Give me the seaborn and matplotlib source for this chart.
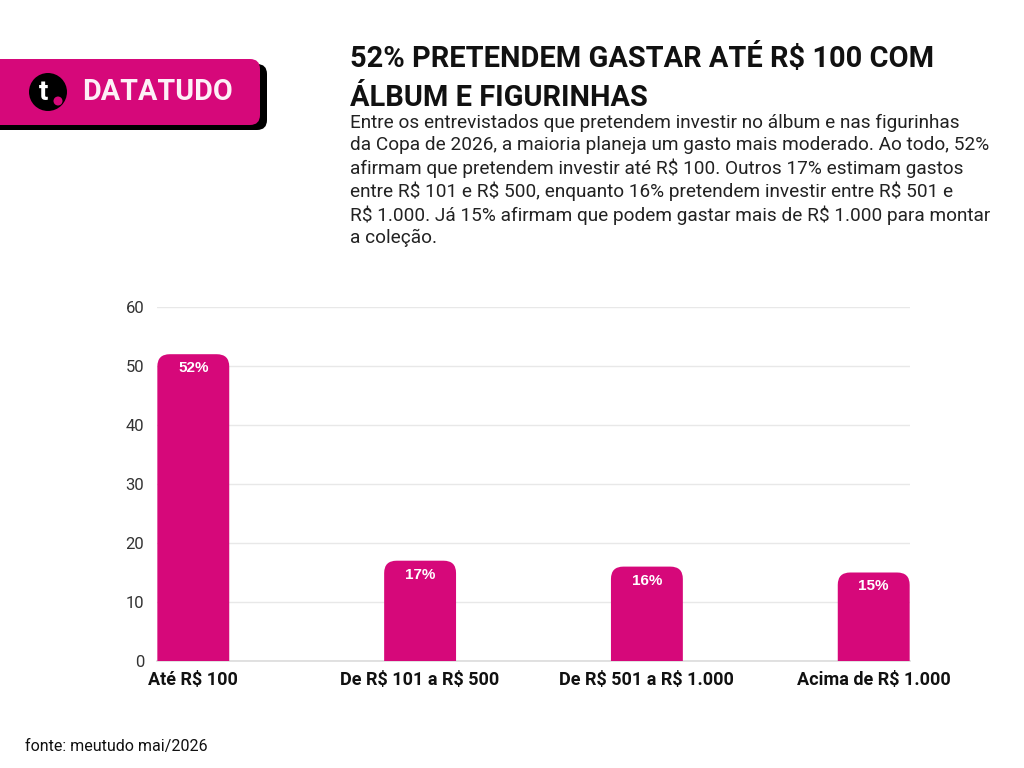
import matplotlib
matplotlib.use("Agg")
import matplotlib.pyplot as plt
import seaborn as sns
import pandas as pd
from matplotlib.patches import FancyBboxPatch, Circle
from matplotlib.transforms import IdentityTransform

categories = ["Até R$ 100", "De R$ 101 a R$ 500", "De R$ 501 a R$ 1.000", "Acima de R$ 1.000"]
values = [52, 17, 16, 15]
bar_labels = ["52%", "17%", "16%", "15%"]
y_ticks = [0, 10, 20, 30, 40, 50, 60]

title_text = "52% PRETENDEM GASTAR ATÉ R$ 100 COM\nÁLBUM E FIGURINHAS"
body_text = ("Entre os entrevistados que pretendem investir no álbum e nas figurinhas\n"
             "da Copa de 2026, a maioria planeja um gasto mais moderado. Ao todo, 52%\n"
             "afirmam que pretendem investir até R$ 100. Outros 17% estimam gastos\n"
             "entre R$ 101 e R$ 500, enquanto 16% pretendem investir entre R$ 501 e\n"
             "R$ 1.000. Já 15% afirmam que podem gastar mais de R$ 1.000 para montar\n"
             "a coleção.")
source_text = "fonte: meutudo mai/2026"
brand = "DATATUDO"

PINK = "#D6087A"

sns.set_theme(style="white")
plt.rcParams['font.family'] = ['Roboto', 'DejaVu Sans']
plt.rcParams['text.parse_math'] = False

fig = plt.figure(figsize=(10.24, 7.68), dpi=100)
fig.patch.set_facecolor("white")
ax = fig.add_axes([157/1024, 107/768, 753/1024, 354/768])

df = pd.DataFrame({"cat": categories, "val": values})
sns.barplot(data=df, x="cat", y="val", color=PINK, width=0.317, ax=ax, saturation=1)

# rounded top corners
for p in list(ax.patches):
    x0 = p.get_x(); w = p.get_width(); h = p.get_height()
    p.set_visible(False)
    fb = FancyBboxPatch((x0, -4), w, h + 4,
                        boxstyle="round,pad=0,rounding_size=0.055",
                        mutation_aspect=38, facecolor=PINK, edgecolor="none",
                        clip_on=True, zorder=3)
    ax.add_patch(fb)

for i, (v, lab) in enumerate(zip(values, bar_labels)):
    ax.annotate(lab, (i, v), xytext=(0, -14), textcoords="offset pixels",
                ha="center", va="center", color="white", fontsize=11,
                fontweight="bold", family=["Liberation Sans", "DejaVu Sans"], zorder=4)

ax.set_ylim(0, 60)
ax.set_xlim(-0.16, 3.16)
ax.set_yticks(y_ticks)
ax.set_yticklabels([str(t) for t in y_ticks], fontsize=12, color="#333333")
ax.set_xticks(range(len(categories)))
ax.set_xticklabels(categories, fontsize=13, fontweight="bold", color="#111111")
ax.tick_params(axis="y", length=0, pad=9)
ax.tick_params(axis="x", length=0, pad=7)
ax.set_xlabel(""); ax.set_ylabel("")
ax.yaxis.grid(True, color="#e8e8e8", linewidth=1)
ax.set_axisbelow(True)
for s in ["top", "right", "left"]:
    ax.spines[s].set_visible(False)
ax.spines["bottom"].set_color("#dddddd")

# Title and body
fig.text(350/1024, 1 - 43/768, title_text, fontsize=20.9, fontweight="bold",
         va="top", ha="left", color="#111111", linespacing=1.5)
fig.text(350/1024, 1 - 114/768, body_text, fontsize=13.7, va="top", ha="left",
         color="#222222", linespacing=1.27)

# Footer
fig.text(25/1024, 1 - 746/768, source_text, fontsize=11.5, va="center", ha="left",
         color="#111111")

# Logo
H = 768
shadow = FancyBboxPatch((-20, H - 130), 287, 66, boxstyle="round,pad=0,rounding_size=10",
                        transform=IdentityTransform(), facecolor="black", edgecolor="none")
fig.patches.append(shadow)
box = FancyBboxPatch((-20, H - 125), 280, 66, boxstyle="round,pad=0,rounding_size=10",
                     transform=IdentityTransform(), facecolor=PINK, edgecolor="none")
fig.patches.append(box)
circ = Circle((48, H - 92), 19, transform=IdentityTransform(), facecolor="black", edgecolor="none")
fig.patches.append(circ)
fig.text(44/1024, (H - 92)/H, "t", fontsize=20, fontweight="bold", color="white",
         ha="center", va="center")
dot = Circle((58, H - 101), 4.5, transform=IdentityTransform(), facecolor=PINK, edgecolor="none", zorder=5)
fig.patches.append(dot)
fig.text(82/1024, (H - 92)/H, brand, fontsize=20.7, fontweight="bold", color="#fdf0f7",
         ha="left", va="center")

fig.savefig("out.png", dpi=100, facecolor="white")
